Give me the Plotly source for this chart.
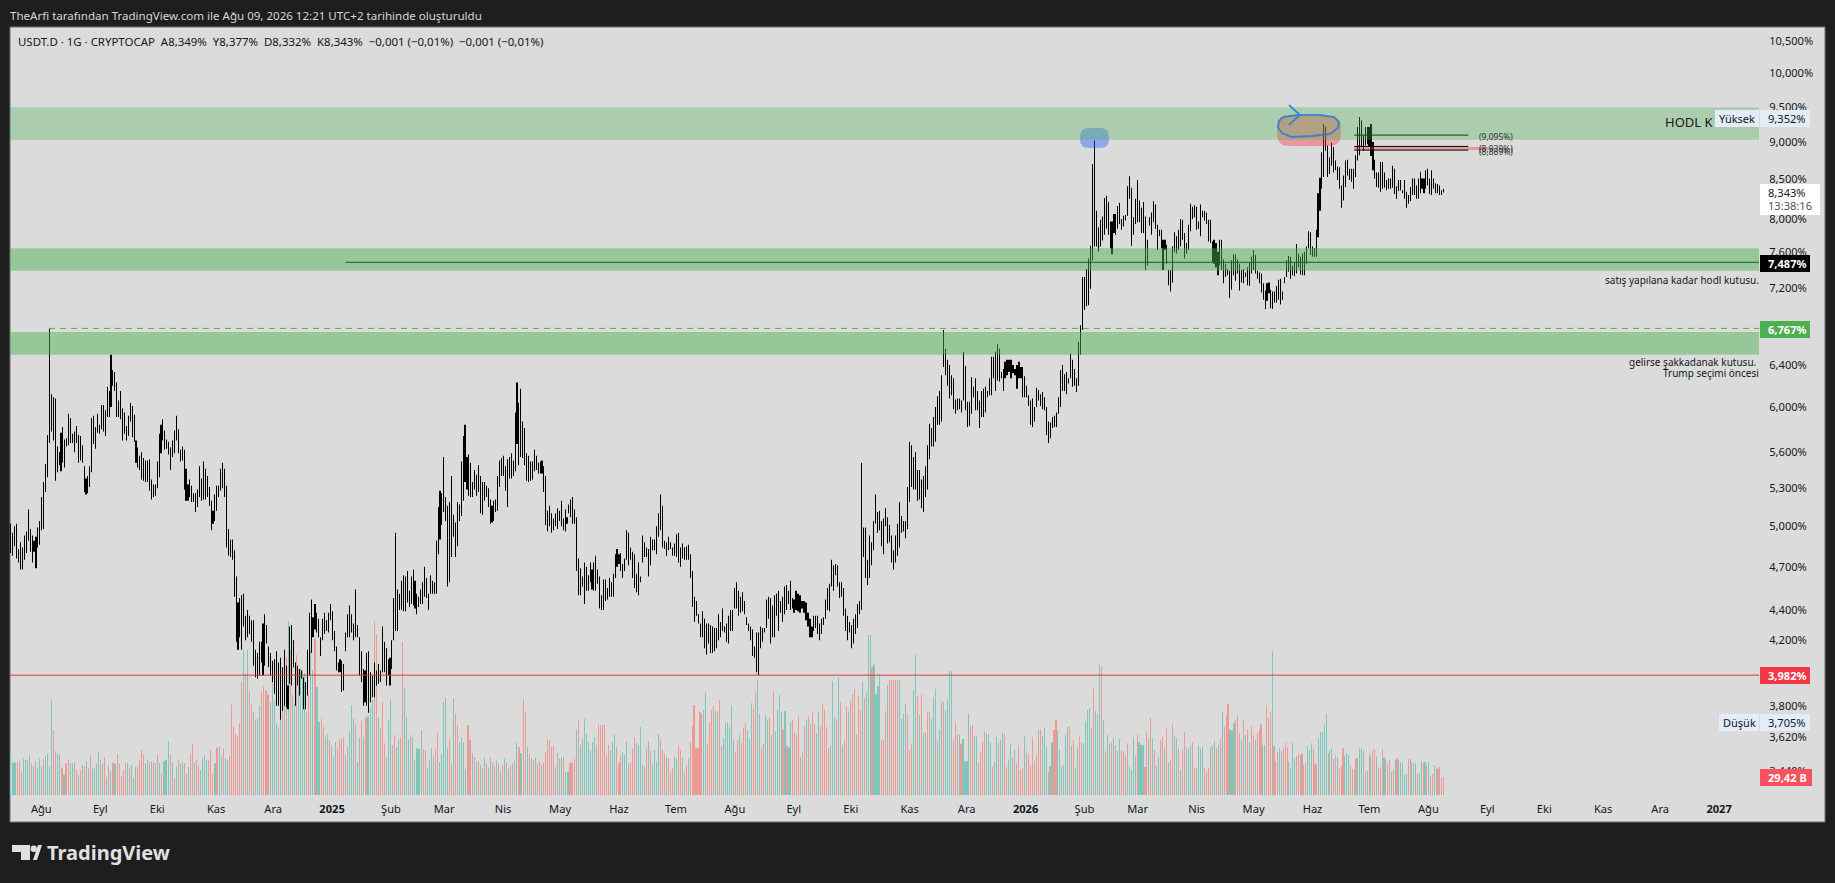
import pandas as pd
import plotly.graph_objects as go

span_a = ("2024-07-16", "2025-06-01")
high_a = [5.02,4.95,5.00,5.02,4.83,4.88,4.84,4.93,4.96,5.13,4.98,4.93,4.89,4.92,4.99,5.04,5.23,5.35,5.50,5.75,6.77,
    6.12,6.09,6.08,5.65,5.60,5.77,5.82,5.71,5.72,5.94,5.90,5.76,5.78,5.83,5.75,5.74,5.66,5.48,5.38,5.40,5.48,5.90,5.92,5.82,5.94,5.84,6.02,6.02,5.97,6.19,6.15,6.50,6.35,6.33,6.23,6.06,6.15,5.99,5.95,5.83,5.92,6.04,6.01,5.93,5.70,5.64,5.57,5.60,5.55,5.53,5.53,5.54,5.37,5.33,5.33,5.52,5.76,5.84,5.89,5.79,5.71,5.69,5.64,5.70,5.79,5.92,5.80,5.62,5.65,5.62,5.46,5.33,5.37,5.32,5.26,5.26,5.29,5.48,5.38,5.52,5.46,5.40,5.31,5.20,5.12,5.25,5.32,5.32,5.46,5.51,5.46,5.32,4.98,4.90,4.90,4.82,
    4.63,4.45,4.48,4.50,4.51,4.36,4.40,4.36,4.33,4.33,4.14,4.12,4.19,4.19,4.31,4.37,4.30,4.16,4.12,4.07,4.08,4.13,4.06,4.09,4.03,4.14,4.04,3.92,4.29,4.30,4.20,4.06,4.04,4.02,4.01,3.97,3.94,4.14,4.38,4.47,4.35,4.44,4.38,4.34,4.22,4.34,4.38,4.33,4.38,4.44,4.39,4.26,4.16,4.06,4.08,4.07,4.05,4.25,4.37,4.43,4.37,4.31,4.54,4.30,4.22,4.13,4.02,4.01,4.12,4.13,4.00,3.98,4.06,4.01,4.05,4.01,4.29,4.19,4.15,4.08,4.09,4.20,4.48,4.95,
    4.54,4.51,4.60,4.64,4.63,4.67,4.53,4.63,4.68,4.60,4.51,4.49,4.54,4.59,4.70,4.62,4.51,4.64,4.60,4.59,4.89,5.15,5.28,5.26,5.56,5.23,5.16,5.19,5.40,5.09,5.03,5.19,5.17,5.52,5.74,5.84,5.56,5.58,5.51,5.35,5.45,5.41,5.49,5.40,5.35,5.35,5.32,5.30,5.21,5.16,5.20,5.21,5.40,5.53,5.55,5.57,5.48,5.54,5.56,5.59,5.53,5.95,6.23,6.04,6.17,5.87,5.81,5.59,5.57,5.52,5.52,5.62,5.57,5.51,5.52,5.53,5.48,5.40,5.12,5.16,5.10,5.06,5.10,5.14,5.12,5.20,5.06,5.13,5.07,5.17,5.21,5.23,5.13,5.07,4.76,4.69,4.63,4.73,4.70,4.64,4.73,4.68,4.73,4.78,4.68,4.63,4.50,4.61,4.61,4.55,4.62,4.59,4.65,4.79,4.83,4.79]
low_a = [4.80,4.78,4.85,4.76,4.73,4.68,4.68,4.75,4.80,4.89,4.81,4.73,4.81,4.69,4.84,4.86,4.97,4.98,5.27,5.39,5.68,
    5.78,5.70,5.36,5.43,5.49,5.44,5.51,5.47,5.65,5.66,5.68,5.68,5.60,5.68,5.51,5.53,5.51,5.27,5.25,5.26,5.31,5.43,5.67,5.63,5.77,5.76,5.80,5.78,5.74,5.91,5.91,6.00,6.20,6.15,5.91,5.91,5.89,5.70,5.76,5.70,5.74,5.87,5.73,5.69,5.51,5.47,5.45,5.37,5.36,5.35,5.35,5.28,5.21,5.23,5.24,5.30,5.39,5.59,5.70,5.62,5.63,5.58,5.45,5.56,5.59,5.70,5.59,5.52,5.53,5.29,5.20,5.20,5.23,5.19,5.19,5.11,5.15,5.23,5.20,5.21,5.21,5.23,5.16,4.97,5.02,5.04,5.12,5.23,5.28,5.30,5.23,4.84,4.78,4.77,4.75,4.49,
    4.19,4.14,4.22,4.14,4.29,4.20,4.22,4.24,4.19,4.04,3.97,3.96,3.98,4.06,3.98,4.04,4.18,4.03,3.98,3.94,3.87,3.80,3.80,3.72,3.77,3.80,3.79,3.78,3.93,3.92,4.03,3.80,3.92,3.86,3.96,3.78,3.78,3.86,3.98,4.12,4.22,4.27,4.25,4.22,4.10,4.20,4.24,4.26,4.25,4.33,4.20,4.13,4.01,4.00,4.00,3.88,3.89,4.13,4.22,4.22,4.25,4.20,4.22,4.22,3.98,3.94,3.80,3.82,3.80,3.76,3.82,3.85,3.85,3.92,3.93,3.94,4.00,4.00,3.92,3.98,3.92,4.02,4.20,4.26,
    4.26,4.40,4.40,4.39,4.39,4.45,4.42,4.44,4.43,4.41,4.37,4.42,4.44,4.44,4.49,4.48,4.40,4.51,4.51,4.51,4.51,4.79,4.90,5.01,5.11,5.04,4.56,4.59,4.77,4.92,4.77,4.85,5.04,5.08,5.20,5.35,5.29,5.24,5.23,5.23,5.29,5.24,5.27,5.10,5.09,5.20,5.23,5.15,5.02,5.03,5.04,5.11,5.12,5.31,5.40,5.40,5.28,5.15,5.38,5.38,5.40,5.44,5.67,5.49,5.56,5.55,5.49,5.36,5.35,5.36,5.37,5.44,5.45,5.42,5.42,5.42,5.27,5.01,4.96,5.00,4.95,4.97,5.00,4.98,5.04,5.00,4.97,4.96,5.02,5.10,5.07,5.02,5.02,4.67,4.50,4.50,4.56,4.44,4.53,4.53,4.59,4.54,4.53,4.53,4.58,4.41,4.40,4.40,4.46,4.47,4.49,4.49,4.49,4.62,4.70,4.72]

span_b = ("2025-06-02", "2026-01-30")
high_b = [4.80,4.72,4.76,4.97,4.95,4.84,4.81,4.79,4.65,4.73,4.63,4.93,4.88,4.84,4.83,4.92,4.90,4.90,5.00,5.10,5.25,5.16,4.89,4.88,4.92,4.88,4.84,4.87,4.94,4.95,4.84,4.87,4.84,4.85,4.86,4.79,4.67,
    4.49,4.46,4.37,4.31,4.39,4.34,4.31,4.31,4.30,4.29,4.28,4.28,4.37,4.32,4.41,4.29,4.31,4.36,4.40,4.40,4.55,4.59,4.53,4.49,4.52,4.46,4.35,4.31,4.29,4.27,4.16,4.25,4.25,4.29,4.28,4.28,4.47,4.49,4.48,4.43,4.50,4.51,4.53,4.46,4.49,4.56,4.57,4.53,4.60,4.48,4.47,4.53,4.51,4.50,4.46,4.46,4.45,4.38,4.34,4.29,4.36,4.36,4.36,4.31,4.34,4.35,4.47,4.55,4.58,4.75,4.71,4.72,4.71,4.59,4.59,4.55,4.41,4.36,4.32,4.30,4.34,4.37,4.44,4.46,5.51,
    4.99,4.99,4.75,4.93,4.88,5.04,5.25,5.11,5.12,5.04,5.06,5.14,5.07,5.01,4.93,4.82,4.93,5.02,5.19,5.08,5.04,5.04,5.31,5.69,5.66,5.56,5.60,5.45,5.45,5.37,5.40,5.48,5.66,5.85,5.81,5.91,6.00,6.10,6.15,6.30,6.75,6.56,6.45,6.40,6.30,6.27,6.07,6.08,6.08,6.06,6.53,6.39,6.05,6.05,6.28,6.19,6.27,6.15,6.06,6.15,6.17,6.19,6.15,6.27,6.48,6.48,6.53,6.61,6.56,6.33,6.36,6.43,6.45,6.45,6.45,6.40,6.36,6.40,6.43,6.38,6.38,6.29,6.20,6.11,6.06,6.08,6.00,6.18,6.16,6.12,6.14,6.09,6.00,5.87,5.86,5.91,5.92,5.95,6.09,6.35,6.40,6.31,6.33,6.27,6.51,6.45,6.36,6.27,6.63,6.80]
low_b = [4.67,4.62,4.67,4.75,4.71,4.75,4.62,4.55,4.52,4.50,4.59,4.73,4.77,4.77,4.63,4.71,4.82,4.82,4.79,4.92,4.97,4.84,4.83,4.78,4.82,4.83,4.78,4.78,4.77,4.73,4.70,4.76,4.75,4.75,4.75,4.62,4.42,
    4.32,4.36,4.31,4.22,4.22,4.15,4.11,4.18,4.12,4.12,4.13,4.15,4.20,4.22,4.26,4.25,4.19,4.18,4.26,4.26,4.41,4.41,4.36,4.38,4.39,4.37,4.30,4.26,4.20,4.10,4.09,4.00,3.98,4.15,4.19,4.25,4.28,4.34,4.18,4.22,4.22,4.36,4.26,4.38,4.32,4.37,4.40,4.44,4.40,4.41,4.38,4.40,4.39,4.38,4.41,4.38,4.33,4.29,4.22,4.22,4.26,4.28,4.24,4.20,4.24,4.30,4.34,4.40,4.39,4.56,4.53,4.64,4.56,4.48,4.49,4.36,4.26,4.20,4.25,4.15,4.18,4.24,4.28,4.37,4.40,
    4.77,4.62,4.57,4.62,4.71,4.82,5.02,4.95,4.97,4.85,4.79,5.00,4.87,4.88,4.73,4.68,4.73,4.78,4.84,4.95,4.96,4.91,4.98,5.19,5.31,5.29,5.29,5.20,5.21,5.14,5.11,5.23,5.29,5.54,5.65,5.65,5.69,5.84,5.84,5.87,6.38,6.30,6.20,6.08,6.11,5.98,5.94,5.97,5.98,5.95,6.06,5.97,5.82,5.83,5.94,6.09,5.97,5.97,5.81,5.91,5.91,5.95,6.09,6.11,6.11,6.27,6.15,6.25,6.24,6.27,6.15,6.27,6.30,6.33,6.27,6.32,6.30,6.17,6.27,6.27,6.09,6.09,6.09,6.01,5.84,5.82,5.87,6.00,6.06,6.01,5.98,5.97,5.75,5.68,5.72,5.81,5.82,5.82,5.94,6.00,6.15,6.15,6.12,6.22,6.27,6.19,6.20,6.14,6.20,6.50]

span_c = ("2026-01-31", "2026-08-09")
high_c = [7.32,7.32,7.41,7.53,7.68,8.70,9.02,8.10,7.90,7.99,8.03,8.26,8.29,8.21,7.97,7.97,8.06,8.06,8.16,8.20,8.00,8.04,8.05,8.41,8.54,8.39,8.02,8.25,8.49,8.23,8.14,8.21,8.03,7.75,8.02,8.08,8.22,8.18,7.93,7.87,7.87,7.75,7.75,7.69,7.40,7.40,7.67,7.84,7.79,7.87,8.00,7.99,7.83,7.71,7.93,8.19,8.15,8.17,8.15,7.97,8.18,8.10,8.10,8.08,7.99,7.99,7.73,7.75,7.71,7.61,7.75,7.75,7.52,7.47,7.41,7.39,7.51,7.58,7.58,7.52,7.47,7.40,7.41,7.37,7.43,7.48,7.55,7.63,7.57,7.39,7.37,7.36,7.25,7.17,7.25,7.26,7.18,7.16,7.16,7.22,7.29,7.30,7.16,7.32,7.51,7.56,7.55,7.45,7.49,7.70,7.59,7.55,7.59,7.61,7.67,7.85,7.84,7.67,7.65,7.87,8.32,8.52,8.86,9.25,9.22,8.95,8.79,8.99,8.93,8.75,8.67,8.66,8.42,8.55,8.75,8.76,8.64,8.64,8.64,8.82,9.21,9.35,9.30,9.09,9.21,9.21,9.21,9.25,9.00,8.76,8.59,8.59,8.73,8.73,8.59,8.49,8.51,8.51,8.68,8.64,8.41,8.49,8.49,8.36,8.49,8.34,8.30,8.40,8.51,8.51,8.42,8.51,8.60,8.51,8.51,8.62,8.64,8.51,8.62,8.51,8.45,8.44,8.42,8.36,8.377]
low_c = [6.75,6.96,7.00,7.01,7.19,7.51,7.67,7.67,7.61,7.67,7.74,7.81,7.88,7.81,7.65,7.58,7.83,7.81,7.88,7.94,7.87,7.91,7.98,8.04,8.25,7.68,7.81,7.94,7.96,7.96,7.83,7.83,7.40,7.45,7.92,7.81,7.96,7.88,7.63,7.79,7.65,7.40,7.63,7.47,7.23,7.16,7.26,7.60,7.59,7.63,7.67,7.75,7.53,7.59,7.63,7.85,8.00,8.02,7.87,7.88,7.79,8.02,7.98,7.94,7.73,7.71,7.49,7.47,7.43,7.34,7.45,7.40,7.25,7.32,7.34,7.09,7.18,7.34,7.28,7.36,7.17,7.26,7.25,7.32,7.23,7.22,7.36,7.40,7.36,7.30,7.25,7.15,7.07,6.97,7.06,7.14,6.98,6.97,7.04,7.04,7.07,7.02,7.07,7.25,7.32,7.38,7.30,7.34,7.33,7.36,7.43,7.35,7.34,7.34,7.47,7.65,7.57,7.55,7.55,7.55,7.78,8.10,8.38,8.53,8.88,8.53,8.57,8.68,8.59,8.62,8.49,8.38,8.14,8.23,8.40,8.55,8.49,8.47,8.38,8.53,8.75,8.82,8.93,8.88,8.95,8.97,8.93,8.81,8.62,8.51,8.40,8.39,8.34,8.38,8.39,8.36,8.38,8.38,8.39,8.31,8.25,8.35,8.36,8.32,8.25,8.14,8.19,8.22,8.30,8.30,8.25,8.25,8.32,8.38,8.32,8.38,8.42,8.31,8.30,8.38,8.32,8.32,8.30,8.30,8.332]

# volume in billions, minus means the day closed red
vol_span_a = ("2024-07-16", "2025-06-01")
vol_a = [68,52,52,-52,-55,-37,58,56,56,64,-51,46,-54,44,58,46,-57,62,66,46,152,-104,-70,67,65,-44,32,-51,-56,51,51,-52,-40,32,-40,48,-46,54,-43,-64,44,42,51,70,-56,50,-61,29,-48,38,-52,50,-66,-51,-31,-40,-51,51,-43,48,28,45,-45,-56,-72,-65,51,56,-53,54,-52,51,-65,51,-35,54,56,86,-65,53,-27,46,-56,51,52,-51,-34,45,-67,-82,52,-56,-47,40,59,64,56,-56,-72,-34,51,-76,78,61,-75,59,56,-63,
    -145,-110,-98,-94,-115,-181,232,-195,233,-165,-145,133,-121,122,143,-167,-174,-167,-161,149,197,152,115,-108,133,-155,229,-221,278,-232,160,147,-224,200,203,200,195,-133,-160,232,200,-250,173,117,-122,-109,93,97,-88,-80,61,85,-75,-89,-90,-92,64,-77,102,144,122,-113,53,92,-119,93,-124,126,140,152,-278,-257,124,-107,-149,-83,60,120,153,-80,-96,77,89,-93,-245,172,125,89,-96,93,57,75,
    74,104,-74,-71,43,57,75,61,-74,-99,53,65,149,155,75,-90,-51,155,-131,-112,84,92,85,42,-112,-88,67,-61,53,-55,48,-42,60,-50,44,-60,52,-46,55,-50,38,-48,58,-52,42,-47,50,-55,84,-77,67,-153,-133,77,-66,59,-55,60,-50,-54,48,-52,-69,-89,-88,-77,-79,45,-68,59,60,-61,37,37,-51,-52,-58,105,-119,80,90,123,99,85,71,85,93,-80,-113,-112,-113,-112,-64,-80,72,85,97,-77,-51]
vol_span_b = ("2025-06-02", "2026-04-29")
vol_b = [-63,68,64,86,-50,-52,-75,-93,83,80,109,48,-45,-76,86,-71,50,72,54,97,-90,-73,-67,61,-59,-37,-43,62,58,-80,-72,60,-37,-48,59,-84,-110,-144,-75,-75,-133,-130,136,164,-82,-116,-136,-142,135,133,-152,-78,90,115,116,109,144,88,-68,-88,96,-83,-108,-115,104,90,147,-138,-166,185,130,-76,-82,127,121,-124,96,-166,102,136,160,133,-105,134,-78,76,117,-120,-101,-97,-126,61,-68,-110,120,-126,115,-134,-113,99,133,-110,-146,-137,-109,-75,80,182,124,-121,188,-149,80,-87,-142,134,-150,-161,-170,96,-158,-136,182,-155,164,256,256,-205,209,161,174,193,-89,-89,-134,176,-184,-184,-184,-184,-184,184,122,130,146,-130,-72,-82,168,225,-158,128,-161,99,101,-132,-133,122,156,170,-87,105,150,-149,135,153,198,198,-88,-115,-97,97,-82,90,54,54,131,-110,-112,94,94,-52,-68,-85,-102,99,96,84,-45,52,93,-83,88,100,-97,-45,56,82,-60,72,-51,-80,-40,-43,94,-70,-66,-48,-93,-54,-64,-104,-105,94,108,77,37,-46,84,-104,-121,103,72,46,49,96,109,-110,79,-88,44,77,-94,-84,83,118,136,139,108,-170,134,130,209,-206,120,-70,96,82,-84,91,-80,70,90,-70,-70,64,-83,45,40,93,63,-97,85,81,80,-45,-101,91,-124,91,-72,47,61,-88,-93,75,-107,52,-56,-113,94,91,-75,40,-73,-101,76,74,79,-84,-44,43,79,74,77,-43,-37,-44,76,-80,86,-75,80,-90,133,-109,-128,-146,105,103,115,-120,-128,-100,88,-120,96,-105,84]
vol_span_c = ("2026-04-30", "2026-08-09")
vol_c = [-110,-96,88,-100,-105,-113,80,80,-144,-124,-133,230,-78,-53,-69,75,71,-75,-84,-77,54,42,84,58,-62,-66,64,-66,-48,-52,78,72,83,-74,-50,-48,90,101,102,113,130,-67,70,74,-59,-64,60,-42,-46,-75,62,67,64,-48,-42,40,-59,59,75,75,71,-37,39,-66,62,-70,-74,62,-44,-44,-74,60,57,-51,-56,37,-40,56,-59,56,52,51,32,34,-58,-58,53,51,51,-34,36,55,-51,53,-48,53,-30,-34,48,44,-42,-45,-28,-29]

ax_months = ["2024-08-01","2024-09-01","2024-10-01","2024-11-01","2024-12-01","2025-01-01","2025-02-01","2025-03-01","2025-04-01","2025-05-01","2025-06-01","2025-07-01","2025-08-01","2025-09-01","2025-10-01","2025-11-01","2025-12-01","2026-01-01","2026-02-01","2026-03-01","2026-04-01","2026-05-01","2026-06-01","2026-07-01","2026-08-01","2026-09-01","2026-10-01","2026-11-01","2026-12-01","2027-01-01"]
ax_month_text = ["Ağu","Eyl","Eki","Kas","Ara","<b>2025</b>","Şub","Mar","Nis","May","Haz","Tem","Ağu","Eyl","Eki","Kas","Ara","<b>2026</b>","Şub","Mar","Nis","May","Haz","Tem","Ağu","Eyl","Eki","Kas","Ara","<b>2027</b>"]
price_ticks = [10.5,10,9.5,9,8.5,8,7.6,7.2,6.8,6.4,6,5.6,5.3,5,4.7,4.4,4.2,3.8,3.62,3.44]


def spread(span, n):
    return list(pd.date_range(span[0], span[1], periods=n))

bar_dates = spread(span_a, len(high_a)) + spread(span_b, len(high_b)) + spread(span_c, len(high_c))
highs = high_a + high_b + high_c
lows = low_a + low_b + low_c
vol_dates = spread(vol_span_a, len(vol_a)) + spread(vol_span_b, len(vol_b)) + spread(vol_span_c, len(vol_c))
vols = vol_a + vol_b + vol_c

# plot box in page pixels
L, R, T, B = 10, 1759, 27, 795
W, H = 1835, 883

def fx(px):
    return (px - L) / (R - L)

def fy(py):
    return 1 - (py - T) / (B - T)

def blob(x0, y0, x1, y1, r):
    # rounded box path in paper units
    pts = "M %f,%f L %f,%f Q %f,%f %f,%f L %f,%f Q %f,%f %f,%f L %f,%f Q %f,%f %f,%f L %f,%f Q %f,%f %f,%f Z" % (
        fx(x0+r), fy(y0), fx(x1-r), fy(y0), fx(x1), fy(y0), fx(x1), fy(y0+r),
        fx(x1), fy(y1-r), fx(x1), fy(y1), fx(x1-r), fy(y1),
        fx(x0+r), fy(y1), fx(x0), fy(y1), fx(x0), fy(y1-r),
        fx(x0), fy(y0+r), fx(x0), fy(y0), fx(x0+r), fy(y0))
    return pts

def poly(points, close=False):
    s = "M " + " L ".join("%f,%f" % (fx(a), fy(b)) for a, b in points)
    return s + (" Z" if close else "")

fig = go.Figure()

# very narrow bars, plotly widens them to one whole pixel
fig.add_trace(go.Bar(x=vol_dates, y=[abs(v) for v in vols],
    marker=dict(color=["#80c4ba" if v > 0 else "#ec9a94" for v in vols], line_width=0),
    width=4500000, yaxis="y"))

fig.add_trace(go.Bar(x=bar_dates, y=[h - l for h, l in zip(highs, lows)], base=lows,
    marker=dict(color="#000000", line_width=0), width=4500000, yaxis="y2"))

# drawn levels
fig.add_trace(go.Scatter(x=["2025-01-08","2027-01-23"], y=[7.487,7.487], mode="lines", line=dict(color="#000000", width=1), yaxis="y2"))
fig.add_trace(go.Scatter(x=["2024-08-05","2027-01-23"], y=[6.767,6.767], mode="lines", line=dict(color="#4caf50", width=1, dash="6px,5px"), yaxis="y2"))
fig.add_trace(go.Scatter(x=["2024-07-14","2027-01-23"], y=[3.982,3.982], mode="lines", line=dict(color="#dd3340", width=1), yaxis="y2"))
fig.add_trace(go.Scatter(x=["2026-06-23","2026-09-02"], y=[8.91,8.91], mode="lines", line=dict(color="rgba(242,54,69,0.4)", width=3), yaxis="y2"))
for lvl in [9.095, 8.939, 8.889]:
    fig.add_trace(go.Scatter(x=["2026-06-23","2026-08-22"], y=[lvl,lvl], mode="lines", line=dict(color="#000000", width=1), yaxis="y2"))

shapes = [
    dict(type="rect", xref="paper", yref="paper", x0=fx(10), x1=fx(1825), y0=fy(27), y1=fy(822), fillcolor="#dbdbdb", line=dict(color="#707070", width=1), layer="below"),
    dict(type="path", xref="paper", yref="paper", path=blob(1277,116,1341,146,12), fillcolor="rgba(242,54,69,0.4)", line_width=0, layer="above"),
    dict(type="path", xref="paper", yref="paper", path=blob(1080,128,1109,148,9), fillcolor="rgba(41,98,255,0.42)", line_width=0, layer="above"),
]
for y0, y1, col in [(9.03,9.49,"rgba(76,175,80,0.33)"), (7.39,7.65,"rgba(76,175,80,0.475)"), (6.50,6.73,"rgba(76,175,80,0.475)")]:
    shapes.append(dict(type="rect", xref="paper", yref="y2", x0=0, x1=1, y0=y0, y1=y1, fillcolor=col, line_width=0, layer="above"))

# blue freehand circle and chevron over the top
shapes.append(dict(type="path", xref="paper", yref="paper",
    path=poly([(1283,117),(1298,115),(1320,115),(1334,117),(1339,122),(1338,128),(1330,134),(1312,136),(1292,137),(1282,133),(1278,127),(1279,121),(1283,117)]),
    line=dict(color="rgba(47,120,215,0.85)", width=1.8), layer="above"))
shapes.append(dict(type="path", xref="paper", yref="paper",
    path=poly([(1289,105),(1300,115),(1289,125)]), line=dict(color="#3b82d8", width=1.8), layer="above"))

# boxes on the price scale
def box(x0, x1, y0, y1, col):
    shapes.append(dict(type="rect", xref="paper", yref="paper", x0=fx(x0), x1=fx(x1), y0=fy(y0), y1=fy(y1), fillcolor=col, line_width=0, layer="above"))

box(1715,1759,110,127,"#e3edf9")
box(1760,1810,110,127,"#e3edf9")
box(1760,1820,184,215,"#ffffff")
box(1760,1810,255,272,"#000000")
box(1760,1810,321,338,"#4caf50")
box(1760,1810,667,684,"#f23645")
box(1719,1759,714,731,"#e3edf9")
box(1760,1810,714,731,"#e3edf9")
box(1760,1812,769,786,"#f7525f")

# tradingview mark
shapes.append(dict(type="path", xref="paper", yref="paper", path=poly([(12,845),(30,845),(30,860),(21,860),(21,852),(12,852)], True), fillcolor="#e0e0e0", line_width=0, layer="above"))
shapes.append(dict(type="circle", xref="paper", yref="paper", x0=fx(30.5), x1=fx(37), y0=fy(845.5), y1=fy(852), fillcolor="#e0e0e0", line_width=0, layer="above"))
shapes.append(dict(type="path", xref="paper", yref="paper", path=poly([(33,860),(38,845),(42,845),(37,860)], True), fillcolor="#e0e0e0", line_width=0, layer="above"))

FONT = "Noto Sans"
notes = []

def note(px, py, text, size=11, color="#131722", anchor="left"):
    # annotations carry about 2px of padding
    if anchor == "left":
        px -= 2
    if anchor == "right":
        px += 2
    notes.append(dict(xref="paper", yref="paper", x=fx(px), y=fy(py), text=text, showarrow=False,
        xanchor=anchor, yanchor="middle", font=dict(family=FONT, size=size, color=color)))

note(10, 15, "TheArfi tarafından TradingView.com ile Ağu 09, 2026 12:21 UTC+2 tarihinde oluşturuldu", 11.55, "#d6d6d6")
note(18, 41.5, "USDT.D · 1G · CRYPTOCAP&nbsp;&nbsp;A8,349%&nbsp;&nbsp;Y8,377%&nbsp;&nbsp;D8,332%&nbsp;&nbsp;K8,343%&nbsp;&nbsp;−0,001 (−0,01%)&nbsp;&nbsp;−0,001 (−0,01%)", 11.45)
note(1665, 122, "HODL K", 13)
note(1737, 118.5, "Yüksek", 11, anchor="center")
note(1768, 118.5, "9,352%", 11.1)
note(1768, 192, "8,343%", 11.1)
note(1768, 206, "13:38:16", 11.1, "#50535e")
note(1768, 263, "<b>7,487%</b>", 11.1, "#ffffff")
note(1768, 329, "<b>6,767%</b>", 11.1, "#ffffff")
note(1768, 675, "<b>3,982%</b>", 11.1, "#ffffff")
note(1739, 722, "Düşük", 11, anchor="center")
note(1768, 722, "3,705%", 11.1)
note(1768, 777, "<b>29,42 B</b>", 11.1, "#ffffff")
note(1759, 280, "satış yapılana kadar hodl kutusu.", 10, anchor="right")
note(1756, 362.5, "gelirse şakkadanak kutusu.", 10, anchor="right")
note(1759, 372.5, "Trump seçimi öncesi", 10, anchor="right")
note(1479, 136.5, "(9,095%)", 8.5, "#333333")
note(1479, 148, "(8,939%)", 8.5, "#333333")
note(1479, 152, "(8,889%)", 8.5, "#333333")
note(47, 852, "<b>TradingView</b>", 20, "#e0e0e0")

fig.update_layout(
    width=W, height=H,
    margin=dict(l=L, r=W-R, t=T, b=H-B, autoexpand=False),
    paper_bgcolor="#1e1e1e", plot_bgcolor="#dbdbdb",
    showlegend=False, barmode="overlay",
    font=dict(family=FONT, size=11.1, color="#131722"),
    shapes=shapes, annotations=notes,
    xaxis=dict(type="date", range=["2024-07-15 12:00","2027-01-22"], tickvals=ax_months, ticktext=ax_month_text,
        showgrid=False, zeroline=False, showline=False, ticks="outside", ticklen=4, tickcolor="#dbdbdb", tickangle=0),
    yaxis=dict(range=[0,1229], visible=False, showgrid=False),
    yaxis2=dict(type="log", overlaying="y", side="right", range=[0.5205,1.0306], tickvals=price_ticks,
        ticktext=[("%.3f" % v).replace(".", ",") + "%" for v in price_ticks], showgrid=False, zeroline=False, showline=False,
        ticks="outside", ticklen=7, tickcolor="#dbdbdb", anchor="x"),
)

fig.write_html("out.html", config={"displayModeBar": False},
    post_script="document.body.style.margin='0';document.documentElement.style.overflow='hidden';document.body.style.background='#1e1e1e';")
